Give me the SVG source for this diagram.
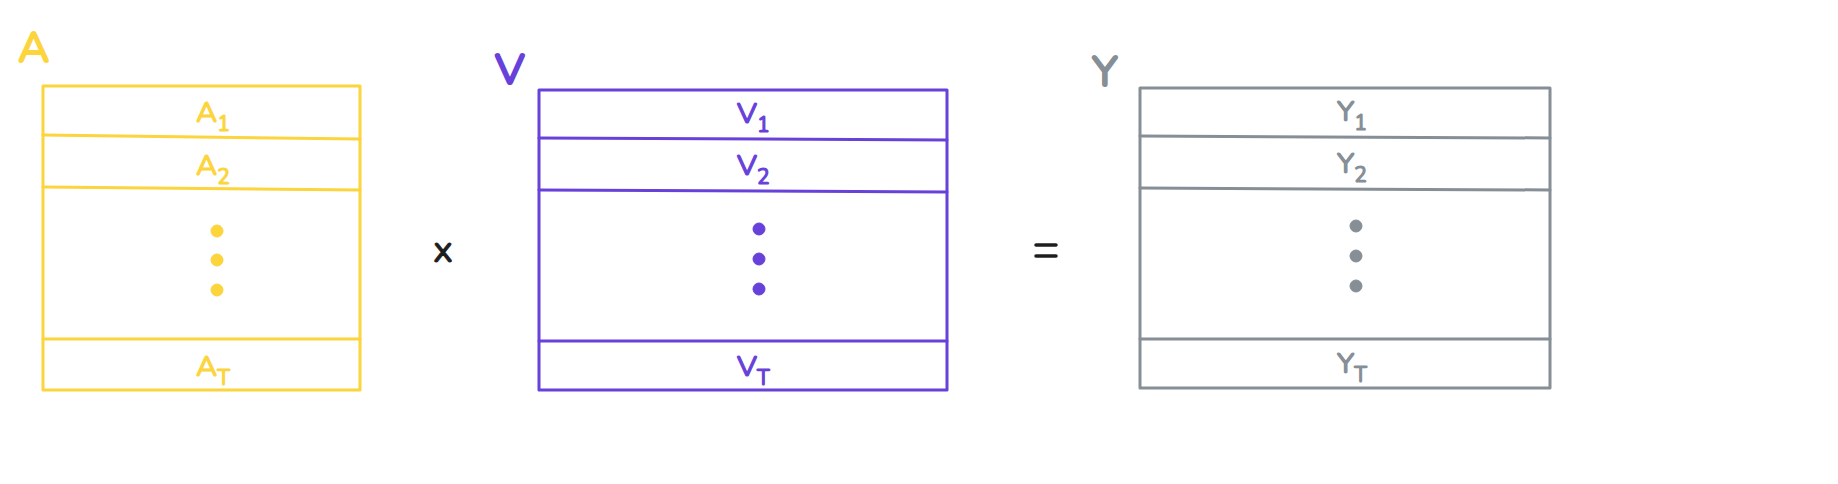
<svg xmlns="http://www.w3.org/2000/svg" width="1838" height="484" viewBox="0 0 1838 484">
<style>
.box{fill:none;stroke-width:3;stroke-linecap:round;stroke-linejoin:round}
.ln{fill:none;stroke-width:3;stroke-linecap:round}
.y{stroke:#fcd43b;fill:#fcd43b}
.v{stroke:#6741d9;fill:#6741d9}
.g{stroke:#868e96;fill:#868e96}
text{font-family:"Nunito","Open Sans","Liberation Sans",sans-serif;stroke-width:1.2;stroke-linejoin:round}
.lab{font-size:29px}
.sub{font-size:21px}
.big{font-size:43px;stroke-width:2}
.ty{fill:#fcd43b;stroke:#fcd43b}
.tv{fill:#6741d9;stroke:#6741d9}
.tg{fill:#868e96;stroke:#868e96}
</style>
<g id="matrixA">
<text class="big ty" x="18" y="62">A</text>
<rect class="box y" style="fill:none" x="43" y="86" width="317" height="304"/>
<path class="ln y" d="M43 135 L360 139 M43 187 L360 190 M43 339 L360 339"/>
<text class="lab ty" x="196" y="122">A<tspan class="sub" dy="9">1</tspan></text>
<text class="lab ty" x="196" y="175">A<tspan class="sub" dy="9">2</tspan></text>
<circle class="y" cx="217" cy="231" r="6"/>
<circle class="y" cx="217" cy="260" r="6"/>
<circle class="y" cx="217" cy="290" r="6"/>
<text class="lab ty" x="196" y="376">A<tspan class="sub" dy="9">T</tspan></text>
</g>
<g id="times"><text x="433" y="262" style="font-size:38px;fill:#1e1e1e;stroke:#1e1e1e;stroke-width:1">x</text></g>
<g id="matrixV">
<text class="big tv" x="495" y="84">V</text>
<rect class="box v" style="fill:none" x="539" y="90" width="408" height="300"/>
<path class="ln v" d="M539 138 L947 140 M539 190 L947 192 M539 341 L947 341"/>
<text class="lab tv" x="737" y="123">V<tspan class="sub" dy="9">1</tspan></text>
<text class="lab tv" x="737" y="175">V<tspan class="sub" dy="9">2</tspan></text>
<circle class="v" cx="759" cy="229" r="6"/>
<circle class="v" cx="759" cy="259" r="6"/>
<circle class="v" cx="759" cy="289" r="6"/>
<text class="lab tv" x="737" y="376">V<tspan class="sub" dy="9">T</tspan></text>
</g>
<g id="equals"><path d="M1036 245 L1056 245 M1036 256 L1056 256" stroke="#1e1e1e" stroke-width="3.5" stroke-linecap="round"/></g>
<g id="matrixY">
<text class="big tg" x="1092" y="86">Y</text>
<rect class="box g" style="fill:none" x="1140" y="88" width="410" height="300"/>
<path class="ln g" d="M1140 136 L1550 138 M1140 188 L1550 190 M1140 339 L1550 339"/>
<text class="lab tg" x="1337" y="121">Y<tspan class="sub" dy="9">1</tspan></text>
<text class="lab tg" x="1337" y="173">Y<tspan class="sub" dy="9">2</tspan></text>
<circle class="g" cx="1356" cy="226" r="6"/>
<circle class="g" cx="1356" cy="256" r="6"/>
<circle class="g" cx="1356" cy="286" r="6"/>
<text class="lab tg" x="1337" y="373">Y<tspan class="sub" dy="9">T</tspan></text>
</g>
<g id="connectors"></g>
</svg>
